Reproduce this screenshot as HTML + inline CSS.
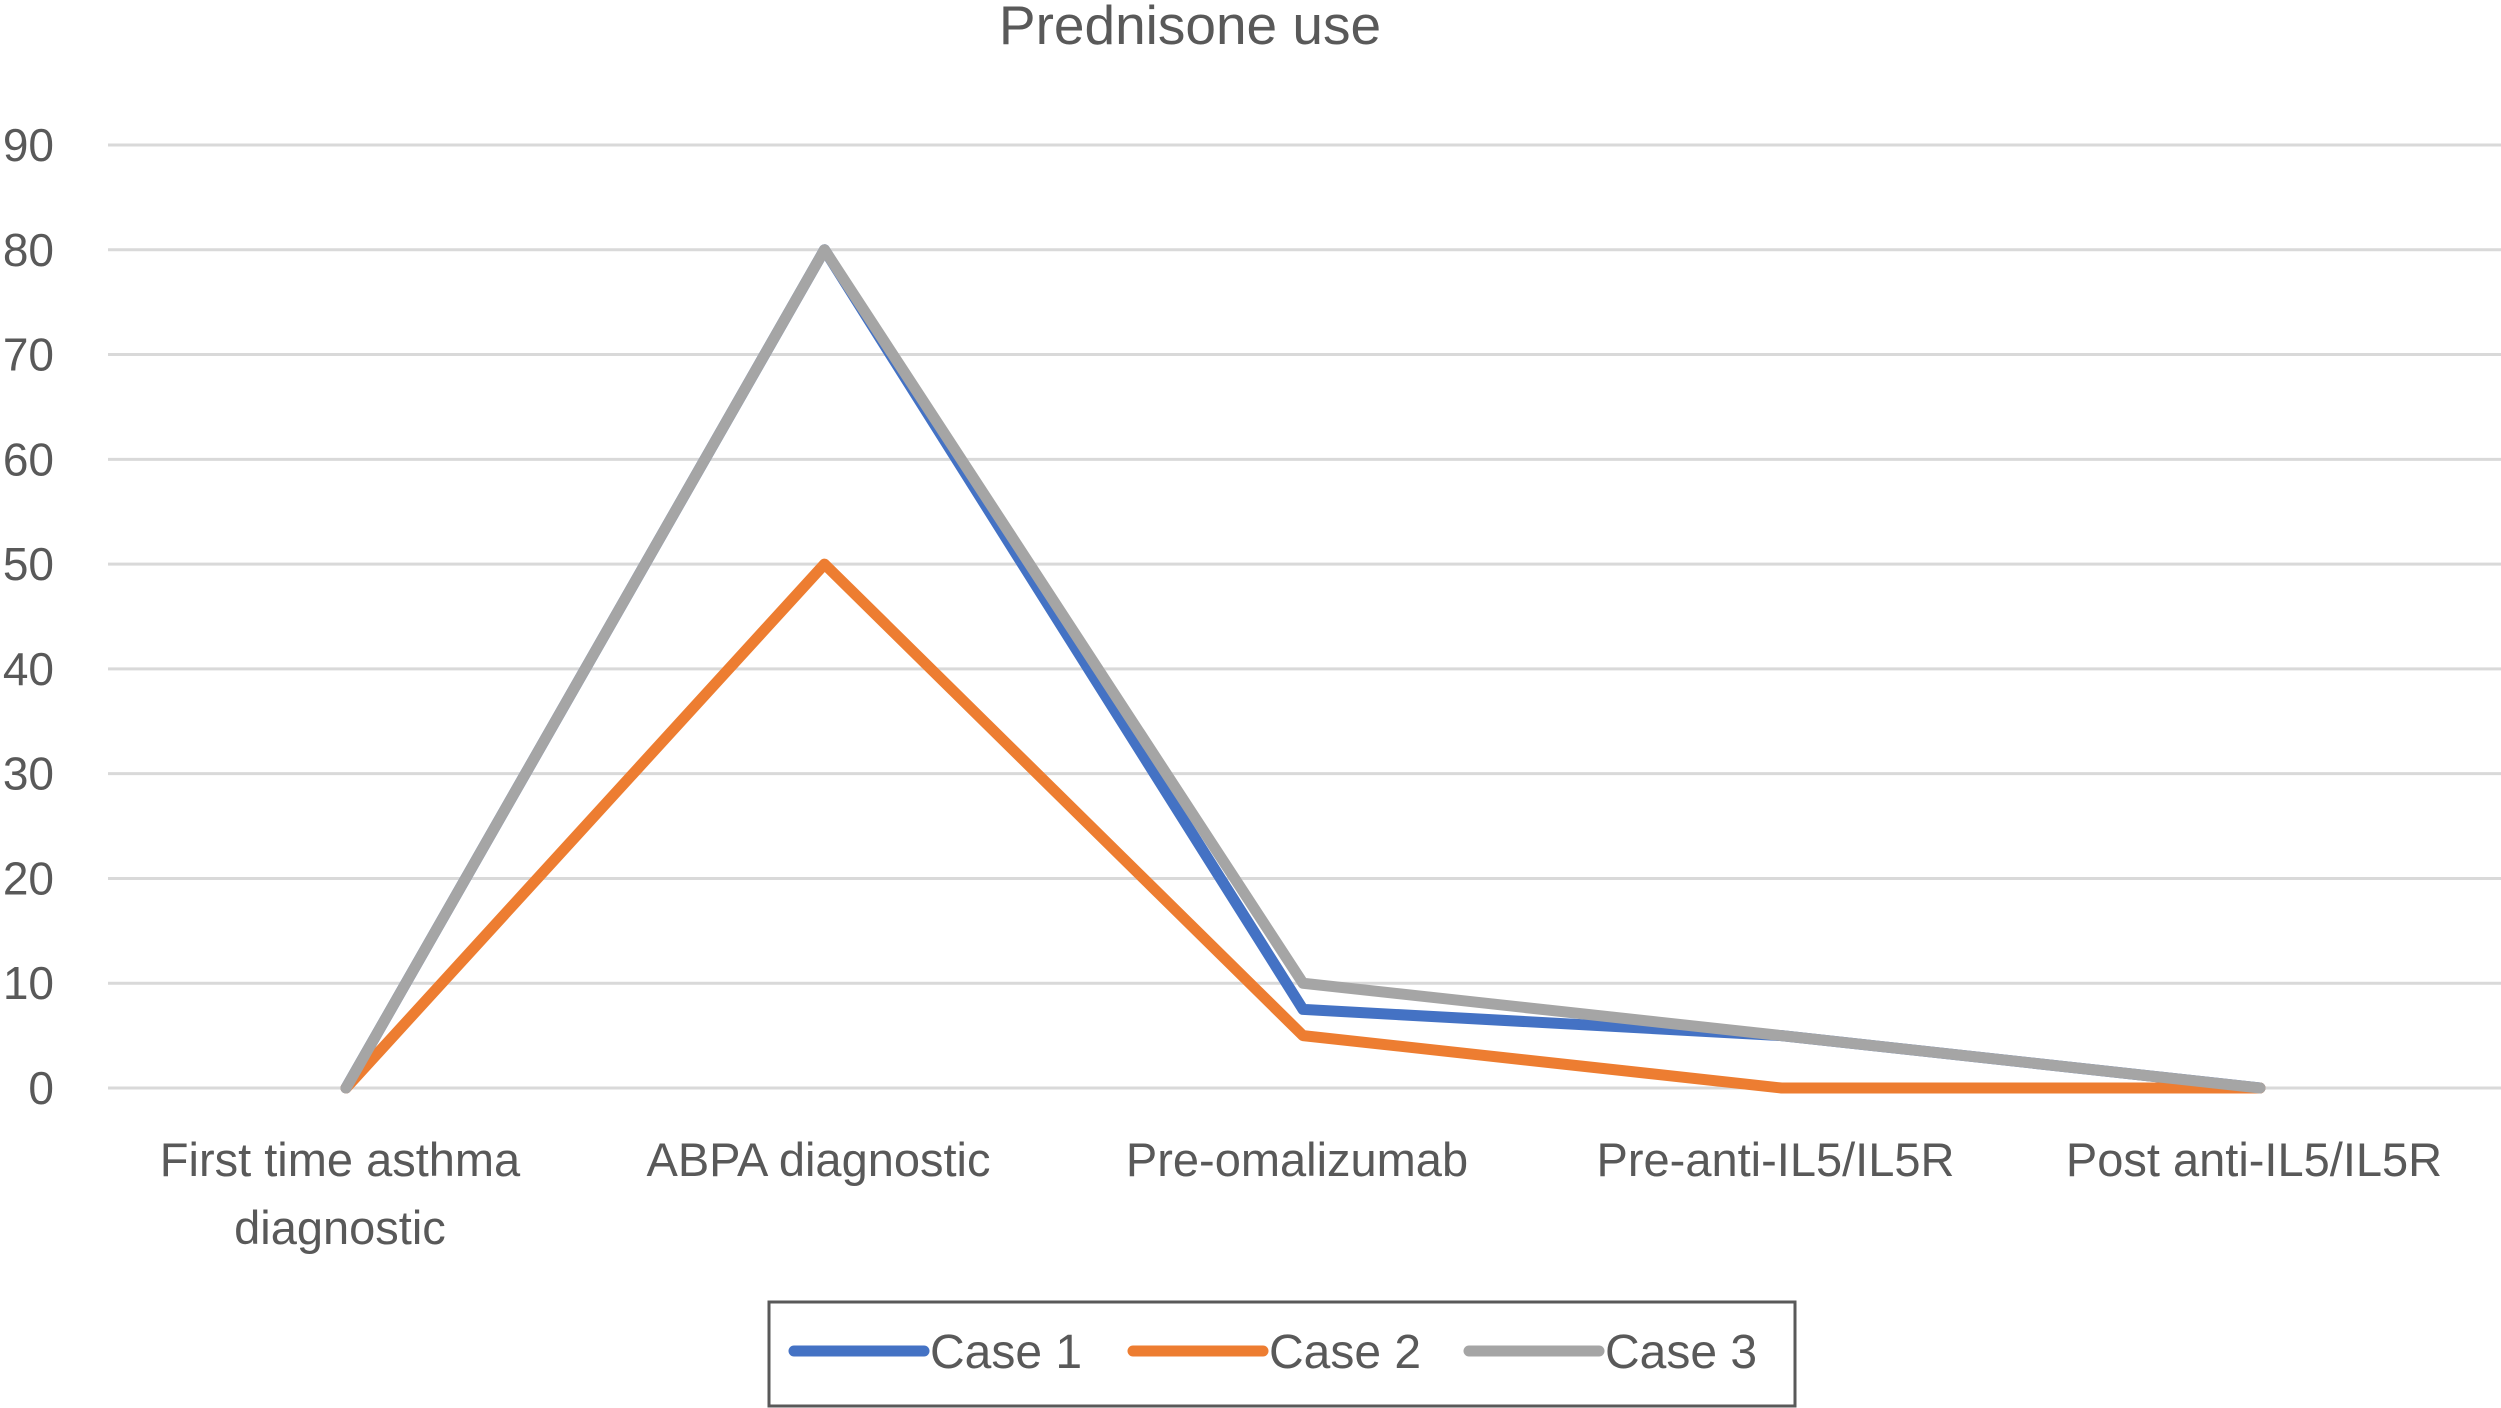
<!DOCTYPE html>
<html><head><meta charset="utf-8"><style>
body{margin:0;background:#fff;}
svg{display:block;font-family:"Liberation Sans",sans-serif;}
</style></head><body>
<svg id="chart" width="2501" height="1408" viewBox="0 0 2501 1408">
<text x="1190" y="44" font-size="55" fill="#595959" text-anchor="middle">Prednisone use</text>
<g id="grid"></g><g id="ylabels"></g><g id="xlabels"></g><g id="lines"></g>
<rect x="769" y="1302" width="1026" height="104" fill="#fff" stroke="#595959" stroke-width="3"/>
<g id="legend"></g>
</svg>
<script>
const categories=[["First time asthma","diagnostic"],["ABPA diagnostic"],["Pre-omalizumab"],["Pre-anti-IL5/IL5R"],["Post anti-IL5/IL5R"]];
const case1=[0,80,7.5,5,0];
const case2=[0,50,5,0,0];
const case3=[0,80,10,5,0];
const yTicks=[0,10,20,30,40,50,60,70,80,90];
const seriesNames=["Case 1","Case 2","Case 3"];
const NS="http://www.w3.org/2000/svg";
const y=v=>1088-v*(1088-145)/90;
const x=i=>346+i*478.5;
function mk(t,a,p){const e=document.createElementNS(NS,t);for(const k in a)e.setAttribute(k,a[k]);p.appendChild(e);return e;}
const g=document.getElementById('grid'),yl=document.getElementById('ylabels'),xl=document.getElementById('xlabels'),ln=document.getElementById('lines'),lg=document.getElementById('legend');
yTicks.forEach(v=>{
const l=mk('line',{x1:108,x2:2501,y1:y(v),y2:y(v),stroke:'#d9d9d9','stroke-width':3},g);


const t=mk('text',{x:54,y:y(v)+16,'font-size':46,fill:'#595959','text-anchor':'end'},yl);
t.textContent=v;


});
categories.forEach((c,i)=>{
c.forEach((s,j)=>{
const t=mk('text',{x:x(i)-6,y:1176+j*68,'font-size':47,fill:'#595959','text-anchor':'middle'},xl);
t.textContent=s;


});
});
const colors=['#4472C4','#ED7D31','#A5A5A5'];
[case1,case2,case3].forEach((d,k)=>{
const p=mk('polyline',{points:d.map((v,i)=>x(i)+','+y(v)).join(' '),fill:'none',stroke:colors[k],'stroke-width':11,'stroke-linejoin':'round','stroke-linecap':'round'},ln);


});
const lx=[794,1133,1469];
seriesNames.forEach((n,k)=>{
const l=mk('line',{x1:lx[k],x2:lx[k]+130,y1:1351,y2:1351,stroke:colors[k],'stroke-width':11,'stroke-linecap':'round'},lg);


const t=mk('text',{x:lx[k]+136,y:1368,'font-size':48,fill:'#595959'},lg);
t.textContent=n;


});
</script>
</body></html>
